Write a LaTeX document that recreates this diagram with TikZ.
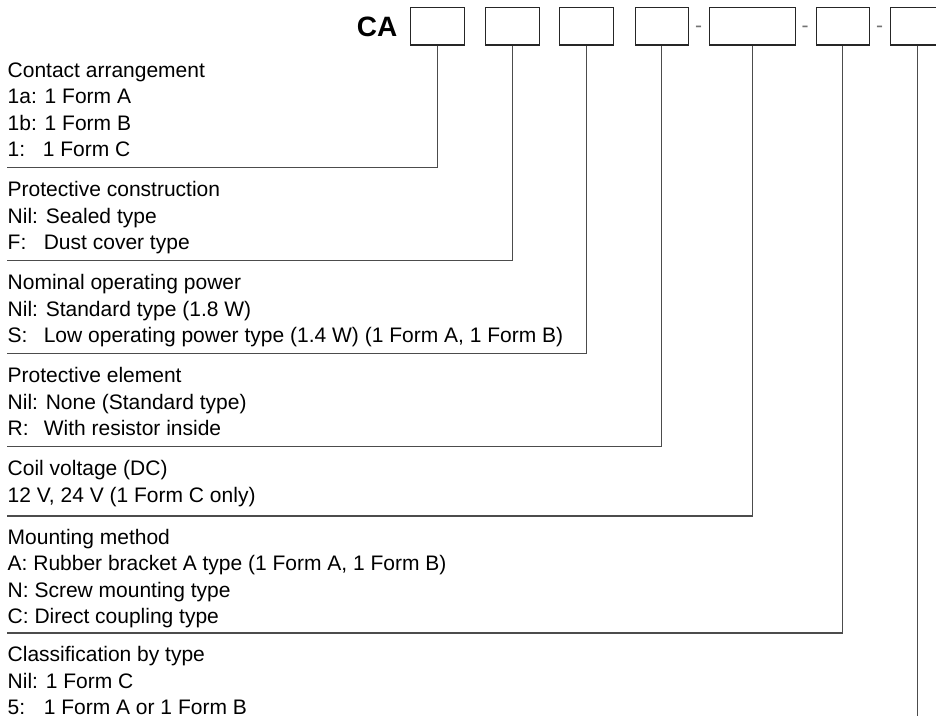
\documentclass[tikz,border=0pt]{standalone}
\usepackage{fontspec}
\setmainfont{Liberation Sans}
\newcommand\tagw[2]{\makebox[#1][l]{#2}}
\begin{document}
\begin{tikzpicture}[x=1pt,y=-1pt,
  codebox/.style={draw=black!85, line width=1.1pt, inner sep=0pt, minimum height=37.5pt, anchor=north west},
  leader/.style={draw=black!70, line width=1.1pt},
  lbl/.style={anchor=base west, inner sep=0pt, font=\fontsize{21}{24}\selectfont, text=black},
  sepmark/.style={anchor=base, inner sep=0pt, font=\fontsize{21}{24}\selectfont, text=black!55}]
\useasboundingbox (0,0) rectangle (936,722);
% header
\node[anchor=base east, inner sep=0pt, font=\fontsize{28}{32}\selectfont\bfseries] (ca) at (397.5,37) {CA};
\node[codebox, minimum width=54pt] (b1) at (409.6,7) {};
\node[codebox, minimum width=54pt] (b2) at (484.8,7) {};
\node[codebox, minimum width=54pt] (b3) at (559.3,7) {};
\node[codebox, minimum width=53.3pt] (b4) at (634.5,7) {};
\node[sepmark] (d1) at (698.5,32.3) {-};
\node[codebox, minimum width=85.5pt] (b5) at (709,7) {};
\node[sepmark] (d2) at (805,32.3) {-};
\node[codebox, minimum width=53.3pt] (b6) at (815.7,7) {};
\node[sepmark] (d3) at (879.5,32.3) {-};
\node[codebox, minimum width=54pt] (b7) at (890.2,7) {};
% group 1
\node[lbl] (t11) at (7.5,77.5) {Contact arrangement};
\node[lbl] (t12) at (7.5,103.8) {1a: 1 Form A};
\node[lbl] (t13) at (7.5,130.1) {1b: 1 Form B};
\node[lbl] (t14) at (7.5,156.4) {\tagw{1.67em}{1:}1 Form C};
\coordinate (e1) at (7,167.4);
% group 2
\node[lbl] (t21) at (7.5,196.8) {Protective construction};
\node[lbl] (t22) at (7.5,223.1) {Nil: Sealed type};
\node[lbl] (t23) at (7.5,249.4) {\tagw{1.72em}{F:}Dust cover type};
\coordinate (e2) at (7,260.4);
% group 3
\node[lbl] (t31) at (7.5,289.8) {Nominal operating power};
\node[lbl] (t32) at (7.5,316.1) {Nil: Standard type (1.8 W)};
\node[lbl] (t33) at (7.5,342.4) {\tagw{1.72em}{S:}Low operating power type (1.4 W) (1 Form A, 1 Form B)};
\coordinate (e3) at (7,353.4);
% group 4
\node[lbl] (t41) at (7.5,382.8) {Protective element};
\node[lbl] (t42) at (7.5,409.1) {Nil: None (Standard type)};
\node[lbl] (t43) at (7.5,435.4) {\tagw{1.72em}{R:}With resistor inside};
\coordinate (e4) at (7,446.4);
% group 5
\node[lbl] (t51) at (7.5,475.8) {Coil voltage (DC)};
\node[lbl] (t52) at (7.5,502.1) {12 V, 24 V (1 Form C only)};
\coordinate (e5) at (7,516);
% group 6
\node[lbl] (t61) at (7.5,544.5) {Mounting method};
\node[lbl] (t62) at (7.5,570.8) {A: Rubber bracket A type (1 Form A, 1 Form B)};
\node[lbl] (t63) at (7.5,597.1) {N: Screw mounting type};
\node[lbl] (t64) at (7.5,623.4) {C: Direct coupling type};
\coordinate (e6) at (7,633);
% group 7
\node[lbl] (t71) at (7.5,661.8) {Classification by type};
\node[lbl] (t72) at (7.5,688.1) {Nil: 1 Form C};
\node[lbl] (t73) at (7.5,714.4) {\tagw{1.72em}{5:}1 Form A or 1 Form B};
\coordinate (e7) at (917,716);
% leaders
\draw[leader] (b1.south) -- (b1.south |- e1) -- (e1);
\draw[leader] (b2.south) -- (b2.south |- e2) -- (e2);
\draw[leader] (b3.south) -- (b3.south |- e3) -- (e3);
\draw[leader] (b4.south) -- (b4.south |- e4) -- (e4);
\draw[leader] (b5.south) -- (b5.south |- e5) -- (e5);
\draw[leader] (b6.south) -- (b6.south |- e6) -- (e6);
\draw[leader] (b7.south) -- (b7.south |- e7);
\end{tikzpicture}
\end{document}
